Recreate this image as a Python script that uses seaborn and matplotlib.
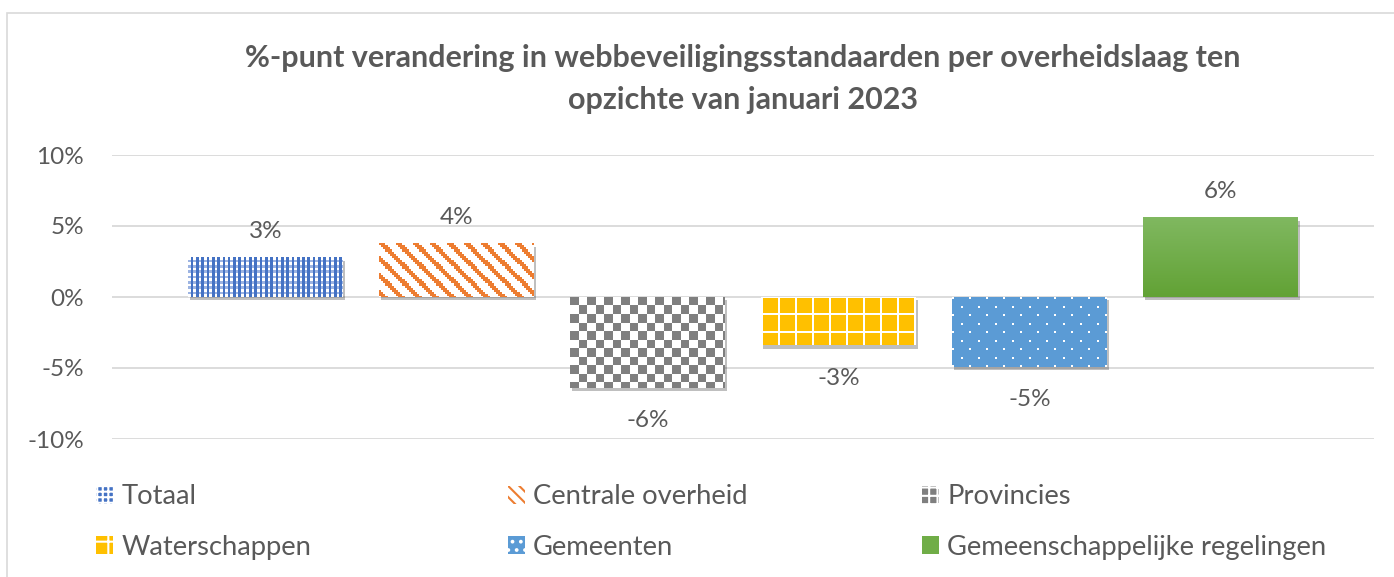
import numpy as np
import pandas as pd
import matplotlib
matplotlib.use('Agg')
import matplotlib.pyplot as plt
import matplotlib.patheffects as pe
from matplotlib.patches import Patch, Rectangle
from matplotlib.colors import to_rgb
import seaborn as sns

# data
series = ['Totaal', 'Centrale overheid', 'Provincies', 'Waterschappen',
          'Gemeenten', 'Gemeenschappelijke regelingen']
change = [2.8, 3.8, -6.4, -3.4, -4.9, 5.6]
yticks = [-10, -5, 0, 5, 10]
title = ('%-punt verandering in webbeveiligingsstandaarden per overheidslaag ten\n'
         'opzichte van januari 2023')

TXT = '#595959'
GRID = '#D9D9D9'
base_colors = ['#4472C4', '#ED7D31', '#7F7F7F', '#FFC000', '#5B9BD5', '#70AD47']

# excel-like fill patterns: (tile of colour indices, colours, screen px per tile pixel)
ii, jj = np.indices((8, 8))
patterns = {
    'Totaal': (np.array([[1, 0], [2, 0]]), ['#4472C4', '#FFFFFF', '#9DB4E2'], 2.65),
    'Centrale overheid': (((jj - ii) % 8 < 3).astype(int), ['#FFFFFF', '#ED7D31'], 2.125),
    'Provincies': (np.array([[1, 0], [0, 1]]), ['#FFFFFF', '#7F7F7F'], 8.5),
    'Waterschappen': (((ii == 0) | (jj == 0)).astype(int), ['#FFC000', '#FFFFFF'], 2.125),
    'Gemeenten': ((((ii == 0) & (jj == 0)) | ((ii == 4) & (jj == 4))).astype(int),
                  ['#5B9BD5', '#FFFFFF'], 2.125),
}
# legend swatches (too small for the textures)
legend_hatch = {
    'Totaal': ('#4472C4', '#FFFFFF', '+++'),
    'Centrale overheid': ('#FFFFFF', '#ED7D31', '\\\\\\'),
    'Provincies': ('#7F7F7F', '#FFFFFF', '++'),
    'Waterschappen': ('#FFC000', '#FFFFFF', '+'),
    'Gemeenten': ('#5B9BD5', '#FFFFFF', '..'),
    'Gemeenschappelijke regelingen': ('#70AD47', '#70AD47', None),
}

df = pd.DataFrame({'groep': [''] * len(series), 'laag': series, 'verandering': change})

sns.set_theme(style='white')
plt.rcParams['font.family'] = ['Lato', 'DejaVu Sans']
plt.rcParams['hatch.linewidth'] = 1.5

W, H = 1394, 577
fig = plt.figure(figsize=(W / 100, H / 100), dpi=100)
ax = fig.add_axes([112 / W, 138 / H, 1262 / W, 284 / H])

sns.barplot(data=df, x='groep', y='verandering', hue='laag', hue_order=series,
            palette=base_colors, saturation=1,
            width=0.908, gap=0.19, errorbar=None, legend=False, ax=ax)

ax.set_xlim(-0.5, 0.5)
ax.set_ylim(-10, 10)
ax.set_yticks(yticks)
ax.set_yticklabels([f'{t}%' for t in yticks])
ax.set_xticks([])
ax.set_xlabel('')
ax.set_ylabel('')
ax.set_axisbelow(True)
ax.yaxis.grid(True, color=GRID, lw=1.3)
sns.despine(ax=ax, left=True, bottom=True)
ax.tick_params(axis='y', length=0, pad=20, labelsize=17.5, labelcolor=TXT)

shadow = [pe.SimplePatchShadow(offset=(1.5, -2.5), shadow_rgbFace='#000000', alpha=0.25),
          pe.Normal()]

bars = [c[0] for c in ax.containers]
for bar in bars:
    bar.set_linewidth(0)
    bar.set_path_effects(shadow)


def bar_size_px(bar):
    (x0, y0), (x1, y1) = ax.transData.transform(
        [(bar.get_x(), bar.get_y()), (bar.get_x() + bar.get_width(), bar.get_y() + bar.get_height())])
    return abs(x1 - x0), abs(y1 - y0)


def fill_texture(bar, img, px=None, interp='nearest'):
    # lay an image over the bar, clipped to it; px = screen pixels per image pixel
    top = bar.get_y() + max(bar.get_height(), 0)
    if px is None:
        ext = (bar.get_x(), bar.get_x() + bar.get_width(), top - abs(bar.get_height()), top)
    else:
        wpx, hpx = bar_size_px(bar)
        dx = bar.get_width() / wpx * px
        dy = abs(bar.get_height()) / hpx * px
        ext = (bar.get_x(), bar.get_x() + img.shape[1] * dx, top - img.shape[0] * dy, top)
    im = ax.imshow(img, extent=ext, origin='upper', aspect='auto', interpolation=interp,
                   zorder=bar.get_zorder() + 0.1)
    im.set_clip_path(bar)


for bar, s in zip(bars, series):
    if s in patterns:
        tile, cols, px = patterns[s]
        wpx, hpx = bar_size_px(bar)
        ny = int(np.ceil(hpx / px / tile.shape[0])) + 1
        nx = int(np.ceil(wpx / px / tile.shape[1])) + 1
        idx = np.tile(tile, (ny, nx))
        img = np.array([to_rgb(c) for c in cols])[idx]
        fill_texture(bar, img, px)

# soft vertical gradient for Gemeenschappelijke regelingen
gbar = bars[series.index('Gemeenschappelijke regelingen')]
grad = np.linspace(0, 1, 64)[:, None, None]
gtop, gbot = np.array(to_rgb('#80B860')), np.array(to_rgb('#62A235'))
fill_texture(gbar, np.repeat(gtop + (gbot - gtop) * grad, 2, axis=1), interp='bilinear')

ax.set_xlim(-0.5, 0.5)
ax.set_ylim(-10, 10)

for cont, v in zip(ax.containers, change):
    ax.bar_label(cont, fmt=lambda x: f'{x:.0f}%', padding=11 if v > 0 else 16,
                 fontsize=17.5, color=TXT)

fig.text(743 / W, 1 - 79 / H, title, ha='center', va='center', fontsize=22,
         fontweight='bold', color=TXT, linespacing=1.64)

# legend, one column per legend object
handles = {}
for s in series:
    face, hc, hatch = legend_hatch[s]
    handles[s] = Patch(facecolor=face, edgecolor=hc, hatch=hatch, lw=0)

columns = [['Totaal', 'Waterschappen'], ['Centrale overheid', 'Gemeenten'],
           ['Provincies', 'Gemeenschappelijke regelingen']]
col_x = [96, 508, 922]
for names, x in zip(columns, col_x):
    fig.legend([handles[n] for n in names], names, loc='center left',
               bbox_to_anchor=(x / W, 1 - 522 / H), frameon=False, fontsize=19.7,
               labelcolor=TXT, handlelength=0.62, handleheight=0.62,
               handletextpad=0.3, labelspacing=0.92, borderpad=0, borderaxespad=0)

fig.add_artist(Rectangle((7 / W, -0.1), 1.2, 1 - 13 / H + 0.1, transform=fig.transFigure,
                         fill=False, ec=GRID, lw=1.2))

fig.savefig('out.png', dpi=100)
